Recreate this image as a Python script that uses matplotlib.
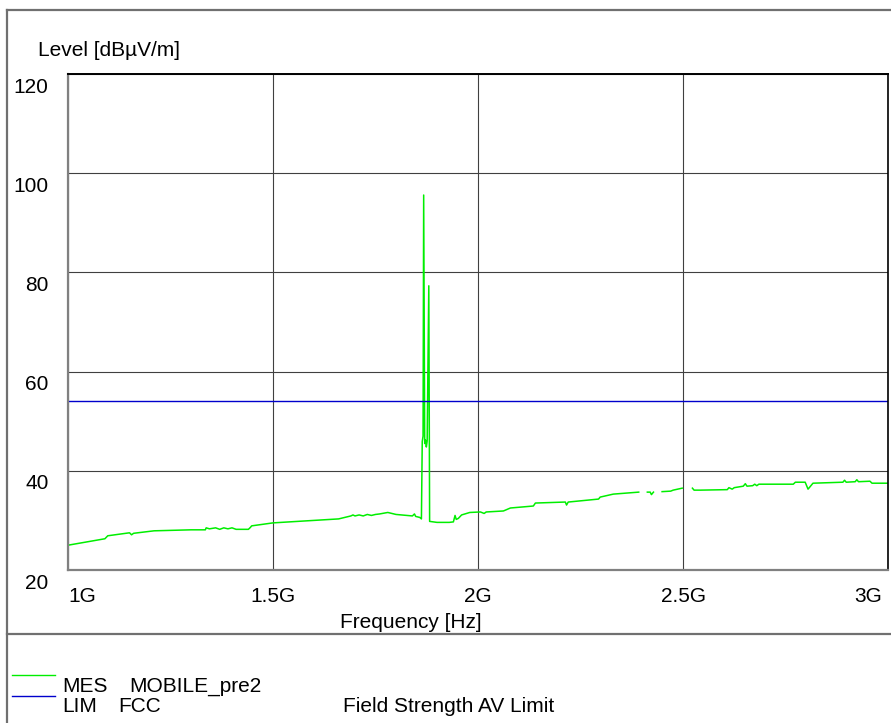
import numpy as np
import matplotlib
matplotlib.use("Agg")
import matplotlib.pyplot as plt
from matplotlib.lines import Line2D
from matplotlib.transforms import ScaledTranslation

plt.rcParams['font.family'] = ['Liberation Sans', 'DejaVu Sans']

# measured trace (frequency in GHz, level in dBuV/m); nan = gap in the trace
freq = [1.000, 1.090, 1.097, 1.150, 1.155, 1.160, 1.210, 1.300, 1.335, 1.337,
        1.345, 1.360, 1.370, 1.380, 1.390, 1.400, 1.410, 1.440, 1.445, 1.448,
        1.500, 1.600, 1.660, 1.690, 1.695, 1.700, 1.710, 1.720, 1.730, 1.740,
        1.750, 1.760, 1.780, 1.800, 1.840, 1.845, 1.848, 1.858, 1.862, 1.864,
        1.866, 1.8675, 1.870, 1.872, 1.874, 1.876, 1.880, 1.882, 1.900, 1.930,
        1.940, 1.944, 1.947, 1.952, 1.960, 1.980, 2.006, 2.015, 2.020, 2.062,
        2.079, 2.135, 2.140, 2.213, 2.216, 2.220, 2.294, 2.298, 2.330, 2.392,
        2.400, 2.413, 2.420, 2.423, 2.428, 2.440, 2.449, 2.470, 2.476, 2.498,
        2.510, 2.523, 2.527, 2.542, 2.608, 2.612, 2.620, 2.625, 2.647, 2.652,
        2.656, 2.670, 2.675, 2.680, 2.685, 2.769, 2.774, 2.798, 2.805, 2.817,
        2.890, 2.894, 2.898, 2.920, 2.924, 2.928, 2.956, 2.961, 3.000]
level = [25.0, 26.3, 26.9, 27.5, 27.1, 27.4, 27.9, 28.1, 28.1, 28.5,
         28.3, 28.5, 28.2, 28.5, 28.3, 28.5, 28.2, 28.2, 28.6, 28.9,
         29.5, 30.0, 30.3, 30.9, 31.1, 30.9, 31.1, 30.9, 31.2, 31.0,
         31.2, 31.3, 31.6, 31.2, 30.9, 31.3, 30.8, 30.6, 30.3, 45.9,
         47.0, 95.6, 45.5, 46.2, 44.8, 46.0, 77.3, 29.8, 29.6, 29.6,
         29.7, 31.0, 30.2, 30.4, 31.1, 31.6, 31.7, 31.4, 31.7, 31.9,
         32.5, 32.9, 33.5, 33.7, 33.1, 33.7, 34.3, 34.7, 35.3, 35.7,
         np.nan, 35.7, 35.7, 35.2, 35.7, np.nan, 35.8, 35.9, 36.1, 36.5,
         np.nan, 36.5, 36.1, 36.1, 36.2, 36.6, 36.3, 36.6, 36.9, 37.4,
         36.9, 37.0, 37.3, 37.0, 37.3, 37.3, 37.7, 37.7, 36.3, 37.5,
         37.7, 38.1, 37.7, 37.8, 38.2, 37.8, 37.9, 37.5, 37.5]

limit_freq = [1.0, 3.0]
limit_level = [54.0, 54.0]

x_ticks = [1.0, 1.5, 2.0, 2.5, 3.0]
x_labels = ['1G', '1.5G', '2G', '2.5G', '3G']
y_ticks = [20, 40, 60, 80, 100, 120]

W, H = 891, 723
FS = 15
fig = plt.figure(figsize=(W / 100, H / 100), dpi=100)

def fx(px):
    return px / W

def fy(py):
    return 1 - py / H

# outer frame and separator
for xs, ys in [([7, W], [10, 10]), ([7, 7], [10, H]), ([7, W], [634, 634])]:
    fig.add_artist(Line2D([fx(v) for v in xs], [fy(v) for v in ys],
                          color='#707070', lw=1.6))

ax = fig.add_axes([fx(68), fy(570), (888 - 68) / W, (570 - 74) / H])
ax.plot(freq, level, color='#00ee00', lw=1.1)
ax.plot(limit_freq, limit_level, color='#0000cc', lw=1.0)

ax.set_xlim(1.0, 3.0)
ax.set_ylim(20, 120)
ax.set_xticks(x_ticks)
ax.set_xticklabels(x_labels, fontsize=FS)
ax.set_yticks(y_ticks)
ax.set_yticklabels([str(v) for v in y_ticks], fontsize=FS)
ax.tick_params(length=0)
ax.tick_params(axis='x', pad=12)
ax.tick_params(axis='y', pad=14)
xl = ax.get_xticklabels()
xl[0].set_ha('left')
xl[-1].set_ha('right')
xl[-1].set_transform(xl[-1].get_transform() + ScaledTranslation(-4 / 72, 0, fig.dpi_scale_trans))
for lab in ax.get_yticklabels():
    lab.set_transform(lab.get_transform() + ScaledTranslation(0, -8 / 72, fig.dpi_scale_trans))

ax.grid(True, color='#404040', lw=0.8)
ax.spines['left'].set_color('#808080')
ax.spines['bottom'].set_color('#808080')
ax.spines['left'].set_linewidth(1.6)
ax.spines['bottom'].set_linewidth(1.6)
ax.spines['top'].set_color('black')
ax.spines['right'].set_color('black')
ax.spines['top'].set_linewidth(1.4)
ax.spines['right'].set_linewidth(1.2)

fig.text(fx(38), fy(51), 'Level [dBµV/m]', fontsize=FS, va='center', ha='left')
fig.text(fx(411), fy(622), 'Frequency [Hz]', fontsize=FS, va='center', ha='center')

# legend area
fig.add_artist(Line2D([fx(12), fx(55)], [fy(675), fy(675)], color='#00ee00', lw=1.0))
fig.add_artist(Line2D([fx(12), fx(55)], [fy(696), fy(696)], color='#0000cc', lw=1.0))
fig.text(fx(62), fy(687), 'MES', fontsize=FS, va='center')
fig.text(fx(129), fy(687), 'MOBILE_pre2', fontsize=FS, va='center')
fig.text(fx(62), fy(707), 'LIM', fontsize=FS, va='center')
fig.text(fx(118), fy(707), 'FCC', fontsize=FS, va='center')
fig.text(fx(343), fy(707), 'Field Strength AV Limit', fontsize=FS, va='center')

fig.savefig('out.png', dpi=100)
